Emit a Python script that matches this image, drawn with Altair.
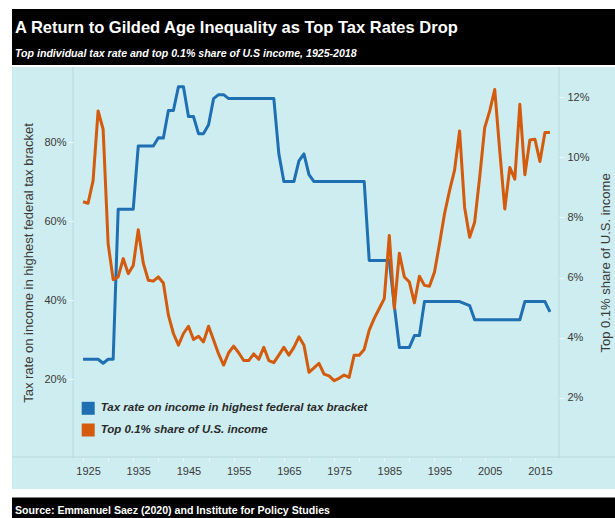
import altair as alt
import pandas as pd

# ---------------- data ----------------
years = list(range(1925, 2019))

# Top marginal federal income tax rate (%)
tax_rate = [
    25, 25, 25, 25, 24, 25, 25,            # 1925-1931
    63, 63, 63, 63,                        # 1932-1935
    79, 79, 79, 79,                        # 1936-1939
    81.1, 81,                              # 1940-1941
    88, 88,                                # 1942-1943
    94, 94,                                # 1944-1945
    86.45, 86.45,                          # 1946-1947
    82.13, 82.13,                          # 1948-1949
    84.36, 91, 92, 92,                     # 1950-1953
    91, 91, 91, 91, 91, 91, 91, 91, 91, 91,  # 1954-1963
    77, 70, 70, 70, 75.25, 77, 71.75,      # 1964-1970
    70, 70, 70, 70, 70, 70, 70, 70, 70, 70, 70,  # 1971-1981
    50, 50, 50, 50, 50,                    # 1982-1986
    38.5, 28, 28, 28, 31, 31,              # 1987-1992
    39.6, 39.6, 39.6, 39.6, 39.6, 39.6, 39.6, 39.6,  # 1993-2000
    39.1, 38.6,                            # 2001-2002
    35, 35, 35, 35, 35, 35, 35, 35, 35, 35,  # 2003-2012
    39.6, 39.6, 39.6, 39.6, 39.6,          # 2013-2017
    37,                                    # 2018
]

# Top 0.1% share of U.S. income (%)
top_share = [
    8.52, 8.47, 9.22, 11.54, 10.93, 7.12, 5.93, 6.02, 6.63, 6.13,   # 1925-1934
    6.40, 7.59, 6.48, 5.91, 5.88, 6.02, 5.82, 4.75, 4.14, 3.75,     # 1935-1944
    4.14, 4.38, 3.94, 4.05, 3.86, 4.38, 3.92, 3.46, 3.09, 3.50,     # 1945-1954
    3.72, 3.50, 3.24, 3.24, 3.46, 3.28, 3.68, 3.24, 3.17, 3.42,     # 1955-1964
    3.68, 3.42, 3.68, 4.03, 3.75, 2.85, 3.00, 3.15, 2.79, 2.73,     # 1965-1974
    2.57, 2.65, 2.76, 2.68, 3.42, 3.42, 3.61, 4.25, 4.64, 4.97,     # 1975-1984
    5.30, 7.40, 4.97, 6.81, 6.02, 5.85, 5.16, 6.04, 5.74, 5.71,     # 1985-1994
    6.18, 7.12, 8.12, 8.89, 9.57, 10.87, 8.33, 7.34, 7.84, 9.33,    # 1995-2004
    10.98, 11.54, 12.25, 10.21, 8.28, 9.66, 9.27, 11.76, 9.42, 10.57,  # 2005-2014
    10.60, 9.86, 10.82, 10.82,                                      # 2015-2018
]

series_names = [
    "Tax rate on income in highest federal tax bracket",
    "Top 0.1% share of U.S. income",
]
series_colors = ["#1f6fb3", "#d45a0c"]

x_tick_years = list(range(1925, 2016, 5))
left_ticks = [0.2, 0.4, 0.6, 0.8]
right_ticks = [0.02, 0.04, 0.06, 0.08, 0.10, 0.12]

title_text = "A Return to Gilded Age Inequality as Top Tax Rates Drop"
subtitle_text = "Top individual tax rate and top 0.1% share of U.S income, 1925-2018"
source_text = "Source: Emmanuel Saez (2020) and Institute for Policy Studies"
left_title = "Tax rate on income in highest federal tax bracket"
right_title = "Top 0.1% share of U.S. income"

# ---------------- layout ----------------
W, H = 486, 391
FONT = "Liberation Sans"
BG = "#cdedf0"
FRAME = "#bcd6d9"
TXT = "#3a3a3a"
TICK = "#eef9fa"

tax_df = pd.DataFrame({"year": years, "value": [v / 100 for v in tax_rate], "series": series_names[0]})
share_df = pd.DataFrame({"year": years, "value": [v / 100 for v in top_share], "series": series_names[1]})
legend_df = pd.DataFrame({"series": series_names})
one = pd.DataFrame({"k": [0]})

color_scale = alt.Scale(domain=series_names, range=series_colors)

x_enc = alt.X(
    "year:Q",
    scale=alt.Scale(domain=[1923, 2019.8], nice=False, zero=False),
    axis=alt.Axis(
        values=x_tick_years, format="d",
        labelExpr="datum.value % 10 == 5 ? datum.label : ''",
        title=None, domain=False, grid=False, zindex=1,
        tickColor=TICK, tickSize=3, labelPadding=4, labelOffset=5,
        labelFlush=False, labelOverlap=False,
        labelFont=FONT, labelFontSize=11, labelColor=TXT,
    ),
)

tax_line = alt.Chart(tax_df).mark_line(strokeWidth=3, strokeJoin="round").encode(
    x=x_enc,
    y=alt.Y(
        "value:Q",
        scale=alt.Scale(domain=[0, 0.99], nice=False),
        axis=alt.Axis(
            orient="left", values=left_ticks, format=".0%", zindex=1,
            title=left_title, titleFont=FONT, titleFontSize=13, titleFontWeight="normal",
            titleColor=TXT, titleAngle=270, titleX=-45, titleY=H / 2,
            titleBaseline="middle", titleAlign="center",
            domain=False, grid=False, tickSize=5, tickColor=TICK,
            labelPadding=2, labelFont=FONT, labelFontSize=11, labelColor=TXT,
        ),
    ),
    color=alt.Color("series:N", scale=color_scale, legend=None),
)

share_line = alt.Chart(share_df).mark_line(strokeWidth=3, strokeJoin="round").encode(
    x=x_enc,
    y=alt.Y(
        "value:Q",
        scale=alt.Scale(domain=[0, 0.13], nice=False),
        axis=alt.Axis(
            orient="right", values=right_ticks, format=".0%", zindex=1,
            title=right_title, titleFont=FONT, titleFontSize=13, titleFontWeight="normal",
            titleColor=TXT, titleAngle=270, titleX=46, titleY=H / 2,
            titleBaseline="middle", titleAlign="center",
            domain=False, grid=False, tickSize=5, tickColor=TICK,
            labelPadding=3, labelFont=FONT, labelFontSize=11, labelColor=TXT,
        ),
    ),
    color=alt.Color("series:N", scale=color_scale, legend=None),
)

# legend drawn from the series list
legend_y = alt.Y(
    "series:N",
    scale=alt.Scale(type="point", domain=series_names, range=[341.3, 363], padding=0),
    axis=None,
)
legend_sq = alt.Chart(legend_df).mark_square(size=169, opacity=1, filled=True).encode(
    x=alt.value(15.2), y=legend_y,
    color=alt.Color("series:N", scale=color_scale, legend=None),
)
legend_txt = alt.Chart(legend_df).mark_text(
    align="left", baseline="middle", font=FONT, fontSize=11.5, fontWeight="bold",
    fontStyle="italic", color="#2a2a2a",
).encode(x=alt.value(27.7), y=legend_y, text="series:N")

base = alt.Chart(one)
bg = base.mark_rect(color=BG).encode(
    x=alt.value(-61), x2=alt.value(W + 60), y=alt.value(0), y2=alt.value(422))
title_bar = base.mark_rect(color="black").encode(
    x=alt.value(-61), x2=alt.value(W + 60), y=alt.value(-58), y2=alt.value(-2))
source_bar = base.mark_rect(color="black").encode(
    x=alt.value(-61), x2=alt.value(W + 60), y=alt.value(430.5), y2=alt.value(470))
frame_left = base.mark_rule(color=FRAME, strokeWidth=1).encode(
    x=alt.value(0), y=alt.value(0), y2=alt.value(H))
frame_right = base.mark_rule(color=FRAME, strokeWidth=1).encode(
    x=alt.value(W), y=alt.value(0), y2=alt.value(H))
frame_bottom = base.mark_rule(color=FRAME, strokeWidth=1).encode(
    y=alt.value(H - 1), x=alt.value(-61), x2=alt.value(W + 60))

title = base.mark_text(align="left", baseline="alphabetic", font=FONT, fontSize=16.5,
                       fontWeight="bold", color="white").encode(
    x=alt.value(-58), y=alt.value(-34), text=alt.value(title_text))
subtitle = base.mark_text(align="left", baseline="alphabetic", font=FONT, fontSize=10.6,
                          fontWeight="bold", fontStyle="italic", color="white").encode(
    x=alt.value(-58), y=alt.value(-10), text=alt.value(subtitle_text))
source = base.mark_text(align="left", baseline="alphabetic", font=FONT, fontSize=10.6,
                        fontWeight="bold", color="white").encode(
    x=alt.value(-58), y=alt.value(447), text=alt.value(source_text))

chart = alt.layer(
    bg, title_bar, source_bar, frame_left, frame_right, frame_bottom,
    tax_line, share_line, legend_sq, legend_txt, title, subtitle, source,
).resolve_scale(
    y="independent"
).properties(
    width=W, height=H,
    autosize=alt.AutoSizeParams(type="none"),
    padding={"left": 73, "top": 67, "right": 56, "bottom": 60},
    background="white",
).configure_view(stroke=None)

chart.save("out.html", embed_options={"renderer": "svg", "actions": False})
